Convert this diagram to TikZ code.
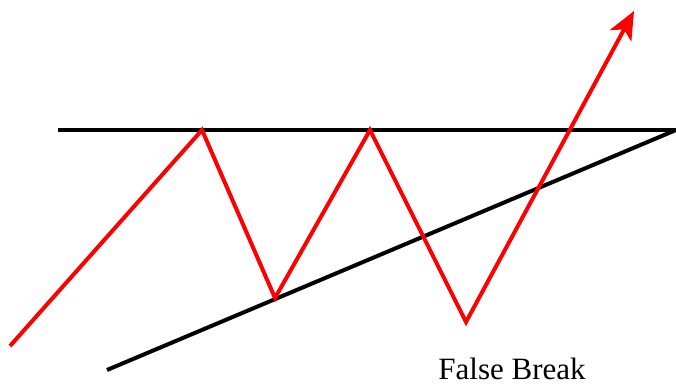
\documentclass[tikz,border=0pt]{standalone}
\usepackage{fontspec}
\setmainfont{Liberation Serif}
\usepackage{tikz}
\usetikzlibrary{arrows.meta}

\begin{document}
\begin{tikzpicture}[
      x=1pt, y=-1pt,
      support/.style={line width=4pt, black},
      price/.style={line width=4pt, red, line join=miter},
      arr/.style={-{Stealth[length=28pt, width=24pt, inset=7pt]}},
      lbl/.style={font=\fontsize{31}{33}\selectfont, inner sep=0pt, anchor=base},
    ]
    \useasboundingbox (0,0) rectangle (676,387);
    % resistance and rising support
    \coordinate (rl) at (58,130);
    \coordinate (rr) at (676,130);
    \coordinate (sl) at (107,370);
    \draw[support] (rl) -- (rr);
    \draw[support] (sl) -- (rr);
    % price path
    \coordinate (p0) at (10,346);
    \coordinate (p1) at (202,130);
    \coordinate (p2) at (275,298);
    \coordinate (p3) at (370,130);
    \coordinate (p4) at (466,322);
    \coordinate (p5) at (634,11);
    \draw[price, arr] (p0) -- (p1) -- (p2) -- (p3) -- (p4) -- (p5);
    \node[lbl] (fb) at (512,379) {False Break};
  \end{tikzpicture}
\end{document}
